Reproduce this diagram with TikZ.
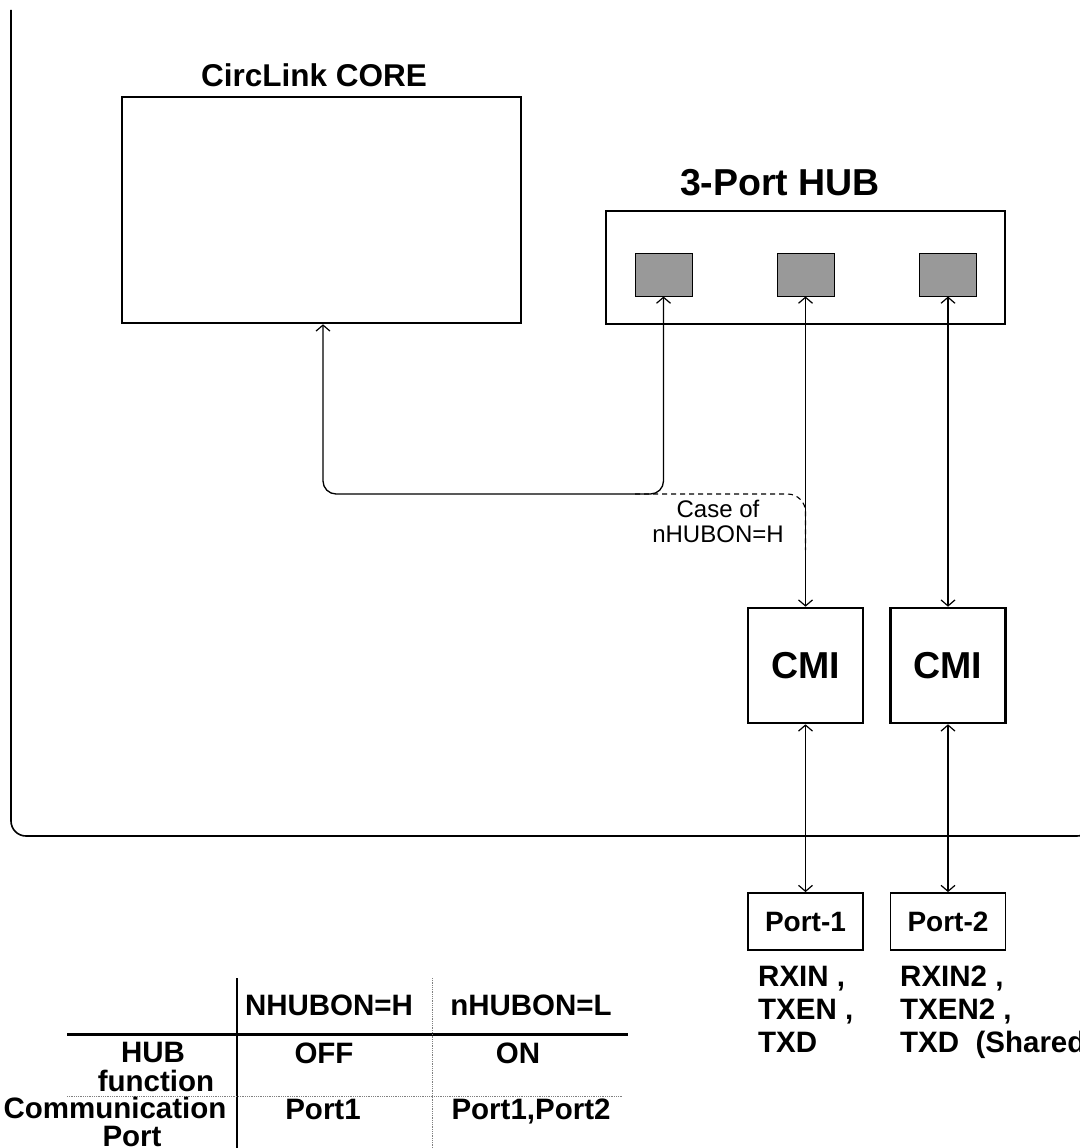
\documentclass[tikz,border=0pt]{standalone}
\usepackage{fontspec}
\setmainfont{Liberation Sans}
\usetikzlibrary{arrows.meta}
\definecolor{sqgrey}{HTML}{999999}
\newcommand\myfs[2]{\fontsize{#1}{#2}\selectfont}
\begin{document}
\begin{tikzpicture}[x=1pt,y=-1pt,
  conn/.style={line width=1.3pt, {Straight Barb[length=6pt,width=14pt,line width=1.2pt]}-{Straight Barb[length=6pt,width=14pt,line width=1.2pt]}},
  bigbox/.style={draw, line width=2.6pt, inner sep=0pt, rectangle},
  portbox/.style={draw, line width=1.8pt, inner sep=0pt, minimum width=115pt, minimum height=57pt, font=\bfseries\myfs{28}{33}},
  cmibox/.style={draw, line width=2.6pt, inner sep=0pt, minimum width=115pt, minimum height=115pt, font=\bfseries\myfs{37.5}{40}},
  greysq/.style={draw, line width=1pt, fill=sqgrey, minimum width=57pt, minimum height=43pt, inner sep=0pt},
  titletxt/.style={inner sep=0pt, anchor=base, font=\bfseries\myfs{#1}{#1}},
  sigtxt/.style={inner sep=0pt, anchor=north west, align=left, font=\bfseries\myfs{29.5}{33}},
  tabtxt/.style={inner sep=0pt, anchor=base, font=\bfseries\myfs{29.5}{30}},
  dotline/.style={draw=gray, densely dotted, line width=0.8pt}]
\useasboundingbox (0,0) rectangle (1079,1148);

% outer frame
\draw[line width=1.6pt, rounded corners=15pt] (11,10) -- (11,836) -- (1092,836) -- (1092,10);

% CircLink CORE
\node[bigbox, minimum width=399pt, minimum height=226pt] (core) at (321.5,210) {};
\node[titletxt=31.5] (coretitle) at (314,86) {CircLink CORE};

% HUB
\node[bigbox, minimum width=399pt, minimum height=113pt] (hub) at (805.5,267.5) {};
\node[titletxt=37.5] (hubtitle) at (780,195) {3-Port HUB};
\node[greysq] (sq1) at (663.5,274.5) {};
\node[greysq] (sq2) at (805.5,274.5) {};
\node[greysq] (sq3) at (948,274.5) {};

% CMI
\node[cmibox] (cmi1) at (805.5,665.5) {CMI};
\node[cmibox] (cmi2) at (948,665.5) {CMI};

% Ports
\node[portbox] (port1) at (805.5,921.5) {Port-1};
\node[portbox] (port2) at (948,921.5) {Port-2};

% connectors
\coordinate (loopc) at (323,494);
\draw[conn, rounded corners=13pt] (sq1.south) |- (loopc) -- (loopc |- core.south);
\draw[conn] (sq2.south) -- (cmi1.north);
\draw[conn] (sq3.south) -- (cmi2.north);
\draw[conn] (cmi1.south) -- (port1.north);
\draw[conn] (cmi2.south) -- (port2.north);

% dashed alternative
\coordinate (dA) at (635,494);
\coordinate (dB) at (805.5,550);
\draw[line width=1.1pt, dash pattern=on 5pt off 4pt, rounded corners=18pt] (dA) -| (dB);
\node[inner sep=0pt, anchor=north, align=center, font=\myfs{24}{25}] (casetxt) at (718,500) {Case of\\nHUBON=H};

% signal names
\node[sigtxt] (sig1) at (758,965.5) {RXIN ,\\TXEN ,\\TXD};
\node[sigtxt] (sig2) at (900,965.5) {RXIN2 ,\\TXEN2 ,\\TXD\ \ (Shared};

% table
\draw[line width=2pt] (237,978) -- (237,1152);
\draw[line width=3pt] (67,1034) -- (628,1034);
\draw[dotline] (432,978) -- (432,1152);
\draw[dotline] (67,1096) -- (622,1096);

\node[tabtxt] (h1) at (329,1015) {NHUBON=H};
\node[tabtxt] (h2) at (531,1015) {nHUBON=L};
\node[tabtxt] (r1a) at (153,1062) {HUB};
\node[tabtxt] (r1b) at (156,1091) {function};
\node[tabtxt] (c11) at (324,1063) {OFF};
\node[tabtxt] (c12) at (518,1063) {ON};
\node[tabtxt] (r2a) at (115,1118) {Communication};
\node[tabtxt] (r2b) at (132,1146) {Port};
\node[tabtxt] (c21) at (323,1119) {Port1};
\node[tabtxt] (c22) at (531,1119) {Port1,Port2};
\end{tikzpicture}
\end{document}
